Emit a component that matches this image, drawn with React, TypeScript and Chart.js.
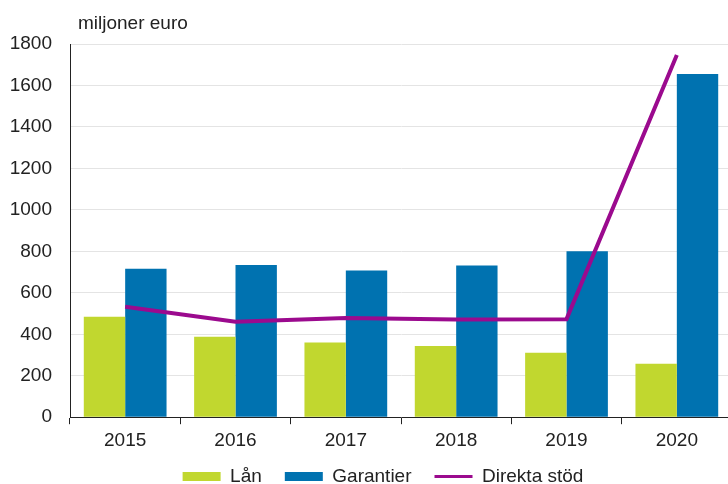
import React, { useEffect, useRef } from "react";
import { Chart, registerables } from "chart.js";

Chart.register(...registerables);

const years = ["2015", "2016", "2017", "2018", "2019", "2020"];
const lan = [484, 388, 360, 343, 311, 258];
const garantier = [716, 734, 708, 732, 800, 1655];
const direktaStod = [533, 460, 479, 471, 473, 1747];
const seriesNames = ["Lån", "Garantier", "Direkta stöd"];
const unitLabel = "miljoner euro";

const GREEN = "#c1d72f";
const BLUE = "#0072b0";
const PURPLE = "#9b0a8e";
const FONT = '"Liberation Sans", Arial, sans-serif';
const FS = 19;
const LEGEND_DX = 17;
const LEGEND_DY = -13;

const unitTitle = {
  id: "unitTitle",
  afterDraw(chart: any) {
    const ctx = chart.ctx;
    ctx.save();
    ctx.font = `${FS}px ${FONT}`;
    ctx.fillStyle = "#222";
    ctx.textBaseline = "middle";
    ctx.textAlign = "left";
    ctx.fillText(unitLabel, chart.chartArea.left + 8, 23.5);
    ctx.restore();
  },
};

const legendShift = {
  id: "legendShift",
  afterLayout(chart: any) {
    const lg = chart.legend;
    if (!lg) return;
    lg.left += LEGEND_DX;
    lg.right += LEGEND_DX;
    lg.top += LEGEND_DY;
    lg.bottom += LEGEND_DY;
  },
};

export default function App() {
  const ref = useRef<HTMLCanvasElement>(null);
  useEffect(() => {
    if (!ref.current) return;
    const chart = new Chart(ref.current, {
      type: "bar",
      data: {
        labels: years,
        datasets: [
          {
            type: "line",
            label: seriesNames[2],
            data: direktaStod,
            borderColor: PURPLE,
            backgroundColor: PURPLE,
            borderWidth: 4,
            pointRadius: 0,
            tension: 0,
            order: 0,
          } as any,
          {
            label: seriesNames[0],
            data: lan,
            backgroundColor: GREEN,
            borderWidth: 0,
            categoryPercentage: 0.75,
            barPercentage: 1,
            order: 1,
          },
          {
            label: seriesNames[1],
            data: garantier,
            backgroundColor: BLUE,
            borderWidth: 0,
            categoryPercentage: 0.75,
            barPercentage: 1,
            order: 1,
          },
        ],
      },
      options: {
        animation: false,
        responsive: true,
        maintainAspectRatio: false,
        layout: { padding: { top: 44, left: 0, right: 4, bottom: 0 } },
        plugins: {
          tooltip: { enabled: false },
          legend: {
            position: "bottom",
            labels: {
              font: { family: FONT, size: FS },
              color: "#222",
              usePointStyle: true,
              pointStyleWidth: 38,
              boxHeight: 9,
              padding: 23,
              generateLabels: (c: any) => {
                const ds = c.data.datasets;
                return [1, 2, 0].map((i) => ({
                  text: ds[i].label,
                  fillStyle: ds[i].backgroundColor,
                  strokeStyle: ds[i].borderColor,
                  lineWidth: i === 0 ? 3 : 0,
                  pointStyle: i === 0 ? "line" : "rect",
                  hidden: false,
                  datasetIndex: i,
                  fontColor: "#222",
                }));
              },
            },
          },
        },
        scales: {
          x: {
            grid: {
              offset: true,
              drawOnChartArea: false,
              drawTicks: true,
              tickLength: 7,
              tickColor: "#222",
            },
            border: { display: true, color: "#222", width: 1 },
            ticks: { font: { family: FONT, size: FS }, color: "#222", padding: 5 },
          },
          y: {
            min: 0,
            max: 1800,
            afterFit: (s: any) => {
              s.width = 70;
            },
            grid: { color: "#e4e4e4", drawTicks: false },
            border: { display: true, color: "#222", width: 1 },
            ticks: {
              stepSize: 200,
              font: { family: FONT, size: FS },
              color: "#222",
              padding: 18,
              callback: (v: any) => String(v),
            },
          },
        },
      },
      plugins: [unitTitle, legendShift],
    });
    return () => chart.destroy();
  }, []);
  return (
    <div
      style={{
        position: "fixed",
        left: 0,
        top: 0,
        width: 728,
        height: 484,
        overflow: "hidden",
        background: "#fff",
      }}
    >
      <div style={{ position: "relative", width: 736, height: 509 }}>
        <canvas ref={ref} />
      </div>
    </div>
  );
}
